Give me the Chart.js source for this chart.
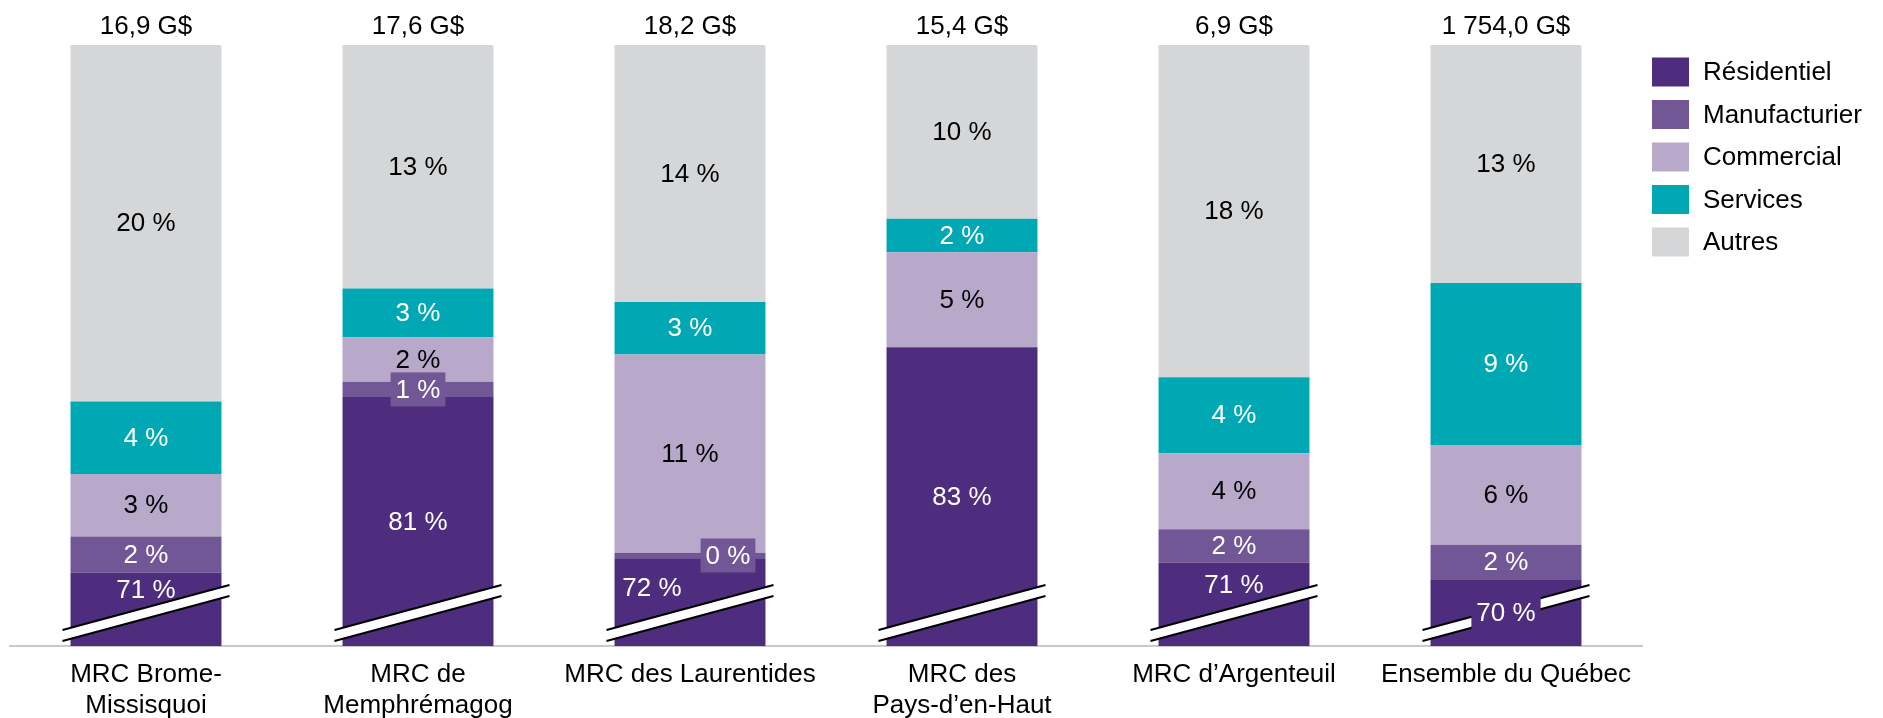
<!DOCTYPE html>
<html lang="fr">
<head>
<meta charset="utf-8">
<script src="https://cdn.jsdelivr.net/npm/chart.js@4.4.1/dist/chart.umd.min.js"></script>
<style>
body{margin:0;background:#fff;}
#wrap{width:1883px;height:718px;}
</style>
</head>
<body>
<div id="wrap"><canvas id="chart" width="1883" height="718"></canvas></div>
<script>
const categories = [
    ['MRC Brome-', 'Missisquoi'],
    ['MRC de', 'Memphrémagog'],
    'MRC des Laurentides',
    ['MRC des', 'Pays-d’en-Haut'],
    'MRC d’Argenteuil',
    'Ensemble du Québec'
];
const totals = [16.9, 17.6, 18.2, 15.4, 6.9, 1754.0];

const residentiel   = [70.85, 80.55, 71.65, 83.3, 71.4, 70.45];
const manufacturier = [2.0, 0.85, 0.3, 0, 1.85, 1.95];
const commercial    = [3.45, 2.45, 10.95, 5.25, 4.2, 5.5];
const services      = [4.0, 2.7, 2.9, 1.85, 4.2, 8.95];
const autres        = [19.7, 13.45, 14.2, 9.6, 18.35, 13.15];

const FONT = '"Liberation Sans", Arial, sans-serif';
const colors = ['#4e2d7e', '#725796', '#b8a9cb', '#00a8b4', '#d5d6d8'];
const labelColors = ['#fff', '#fff', '#000', '#fff', '#000'];
// small horizontal shifts used where two labels would overlap (dataset:index)
const labelNudge = {'0:2': -38, '1:2': 38};

function breakY(el, x, bottom){
    const x0 = el.x - el.width/2 - 8;
    const x1 = el.x + el.width/2 + 8;
    const t = (x - x0) / (x1 - x0);
    return bottom - 16 - 45*t;
}

function formatTotal(n){
    let parts = n.toFixed(1).split('.');
    parts[0] = parts[0].replace(/\B(?=(\d{3})+(?!\d))/g, ' ');
    return parts[0] + ',' + parts[1] + ' G$';
}

const overlay = {
    id: 'overlay',
    afterDatasetsDraw(chart){
        const ctx = chart.ctx;
        const area = chart.chartArea;
        ctx.save();

        // axis break marks on the residential bars
        chart.getDatasetMeta(0).data.forEach(el => {
            const x0 = el.x - el.width/2 - 8;
            const x1 = el.x + el.width/2 + 8;
            const b = area.bottom;
            ctx.beginPath();
            ctx.moveTo(x0, b - 16);
            ctx.lineTo(x1, b - 61);
            ctx.lineTo(x1, b - 50);
            ctx.lineTo(x0, b - 5);
            ctx.closePath();
            ctx.fillStyle = '#fff';
            ctx.fill();
            ctx.strokeStyle = '#000';
            ctx.lineWidth = 2;
            ctx.beginPath();
            ctx.moveTo(x0, b - 16); ctx.lineTo(x1, b - 61);
            ctx.moveTo(x0, b - 5); ctx.lineTo(x1, b - 50);
            ctx.stroke();
        });

        // percentage labels
        ctx.font = '26px ' + FONT;
        ctx.textAlign = 'center';
        ctx.textBaseline = 'middle';
        chart.data.datasets.forEach((ds, di) => {
            chart.getDatasetMeta(di).data.forEach((el, i) => {
                const v = ds.data[i];
                if (!v) return;
                const top = Math.max(el.y, area.top);
                const bottom = Math.min(el.base, area.bottom);
                const h = bottom - top;
                const x = el.x + (labelNudge[di + ':' + i] || 0);
                let y = (top + bottom) / 2;
                let box = h < 24;
                if (di === 0 && h < 150) {
                    const brk = breakY(el, x, area.bottom);
                    if (brk - top >= 30) y = (top + brk) / 2;
                    else box = true;
                }
                const txt = Math.round(v) + ' %';
                if (box) {
                    const w = ctx.measureText(txt).width + 10;
                    ctx.fillStyle = ds.backgroundColor;
                    ctx.fillRect(x - w/2, y - 17, w, 34);
                }
                ctx.fillStyle = labelColors[di];
                ctx.fillText(txt, x, y + 1);
            });
        });

        // totals above each bar
        ctx.fillStyle = '#000';
        ctx.textBaseline = 'alphabetic';
        chart.getDatasetMeta(4).data.forEach((el, i) => {
            ctx.fillText(formatTotal(totals[i]), el.x, area.top - 11);
        });

        // legend
        ctx.textAlign = 'left';
        ctx.textBaseline = 'middle';
        chart.data.datasets.forEach((ds, di) => {
            const cy = 72 + di*42.5;
            ctx.fillStyle = ds.backgroundColor;
            ctx.fillRect(1652, cy - 14.5, 37, 29);
            ctx.fillStyle = '#000';
            ctx.fillText(ds.label, 1703, cy + 1);
        });

        ctx.restore();
    }
};

new Chart(document.getElementById('chart'), {
    type: 'bar',
    data: {
        labels: categories,
        datasets: [
            {label: 'Résidentiel', data: residentiel, backgroundColor: colors[0]},
            {label: 'Manufacturier', data: manufacturier, backgroundColor: colors[1]},
            {label: 'Commercial', data: commercial, backgroundColor: colors[2]},
            {label: 'Services', data: services, backgroundColor: colors[3]},
            {label: 'Autres', data: autres, backgroundColor: colors[4]}
        ]
    },
    options: {
        responsive: false,
        animation: false,
        devicePixelRatio: 1,
        layout: {padding: {top: 45, left: 10, right: 241, bottom: 0}},
        datasets: {bar: {barPercentage: 0.555, categoryPercentage: 1}},
        plugins: {legend: {display: false}, tooltip: {enabled: false}},
        scales: {
            x: {
                stacked: true,
                grid: {display: false, drawTicks: false},
                border: {display: true, color: '#c8c8c8', width: 2},
                ticks: {
                    color: '#000',
                    font: {family: FONT, size: 26, lineHeight: 1.2},
                    padding: 13,
                    maxRotation: 0,
                    autoSkip: false
                },
                afterFit(scale){ scale.height = 72; }
            },
            y: {stacked: true, display: false, min: 66.8, max: 100}
        }
    },
    plugins: [overlay]
});
</script>
</body>
</html>
